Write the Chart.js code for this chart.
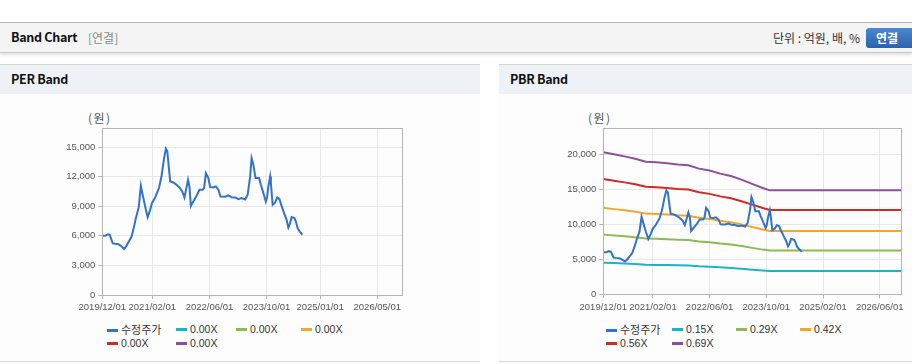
<!DOCTYPE html>
<html>
<head>
<meta charset="utf-8">
<script src="https://cdn.jsdelivr.net/npm/chart.js@4.4.1/dist/chart.umd.min.js"></script>
<style>
  body { margin: 0; width: 912px; height: 364px; overflow: hidden; background: #fff; position: relative;
         font-family: "Noto Sans CJK KR", "Liberation Sans", sans-serif; }
  .hdr { position: absolute; left: 0; top: 22px; width: 912px; height: 29px; background: #f4f4f4;
         border-top: 1px solid #b4b4b4; border-bottom: 1px solid #c8c8c8; box-shadow: 0 2px 3px rgba(0,0,0,0.12); }
  .hdr .t { position: absolute; left: 11px; top: 6px; font-size: 12.5px; letter-spacing: -0.3px; font-weight: bold; color: #111; line-height: 16px; }
  .hdr .s { position: absolute; left: 88px; top: 7px; font-size: 12px; color: #8a8a8a; line-height: 15px; }
  .hdr .u { position: absolute; right: 52px; top: 7px; font-size: 12px; color: #333; line-height: 15px; }
  .hdr .b { position: absolute; left: 866px; top: 5px; width: 52px; height: 20px; border-radius: 3px;
            background: linear-gradient(#4a88cf, #2b63ab); color: #fff; font-size: 12px; font-weight: bold;
            line-height: 20px; padding-left: 10px; box-sizing: border-box; }
  .panel { position: absolute; top: 64px; height: 297px; border-bottom: 1px solid #d6d6d6; background: #fdfdfd; }
  .panel .bar { height: 29px; background: #eef2f7; border-top: 1px solid #d4d4d4; }
  .panel .bar span { position: absolute; left: 11px; top: 7px; font-size: 12.5px; letter-spacing: -0.3px; font-weight: bold; color: #111; line-height: 16px; }
  .unit { position: absolute; top: 110px; font-size: 12px; color: #555; line-height: 15px; letter-spacing: 1.5px; }
  canvas { position: absolute; }
  .legend { position: absolute; top: 322px; display: grid; row-gap: 0; font-size: 10.5px; color: #333;
            font-family: "Liberation Sans", sans-serif; }
  .legend div { height: 14px; line-height: 14px; white-space: nowrap; }
  .legend i { display: inline-block; width: 11px; height: 3px; margin-right: 3px; vertical-align: middle; position: relative; top: -1px; }
  .legend .k { font-family: "Noto Sans CJK KR", sans-serif; font-size: 11px; }
</style>
</head>
<body>
<div class="hdr">
  <span class="t">Band Chart</span><span class="s">[연결]</span>
  <span class="u">단위 : 억원, 배, %</span>
  <span class="b">연결</span>
</div>
<div class="panel" style="left:0; width:480px;"><div class="bar"><span>PER Band</span></div></div>
<div class="panel" style="left:499px; width:413px;"><div class="bar"><span>PBR Band</span></div></div>

<div class="unit" style="left:88px;">(원)</div>
<div class="unit" style="left:588px;">(원)</div>

<canvas id="perChart" width="400" height="220" style="left:40px; top:100px; width:400px; height:220px;"></canvas>
<canvas id="pbrChart" width="372" height="220" style="left:540px; top:100px; width:372px; height:220px;"></canvas>

<div class="legend" id="perLegend" style="left:107px; grid-template-columns: 69px 60px 65px 60px;"></div>
<div class="legend" id="pbrLegend" style="left:606px; grid-template-columns: 66px 64px 64px 60px;"></div>

<script>
// months since 2019/12/01
const priceMonths = [0, 0.9, 1.5, 2.1, 2.9, 3.5, 4.5, 5.2, 6.1, 6.8, 7.7, 8.2, 8.9, 9.4, 10.2, 10.8, 11.3, 12.0, 12.7, 13.4,
  13.9, 14.8, 15.9, 16.6, 17.3, 17.8, 18.2, 19.0, 19.9, 20.8, 21.6, 22.4, 23.0, 23.6, 24.0, 24.4, 24.8, 25.5, 26.4, 27.2,
  28.1, 28.5, 29.0, 29.7, 30.2, 31.1, 31.8, 32.5, 33.1, 34.4, 35.3, 36.2, 37.2, 38.1, 39.0, 40.0, 40.7, 41.4, 41.8, 42.3,
  42.9, 43.9, 44.4, 45.1, 45.8, 46.1, 46.5, 47.0, 47.2, 47.7, 48.4, 49.0, 49.6, 50.2, 50.9, 51.6, 52.1, 52.6, 53.0, 53.8,
  54.2, 54.7, 55.3, 56.0];
const priceValues = [6000, 6000, 6160, 6100, 5250, 5200, 5150, 4980, 4670, 5010, 5590, 5920, 6940, 7790, 8900, 11070, 10160, 8970, 7890, 8630,
  9310, 9890, 10870, 12090, 13880, 14830, 14560, 11510, 11410, 11170, 10900, 10500, 9890, 10940, 11680, 11000, 9040, 9480, 10060, 10670,
  10670, 10840, 12360, 11850, 10940, 10900, 11000, 10670, 9990, 9960, 10090, 9920, 9890, 9720, 9820, 9680, 10160, 12020, 13880, 13210,
  11850, 11850, 11170, 10330, 9480, 9820, 11000, 12020, 11340, 9140, 9380, 9890, 9720, 9040, 8300, 7620, 6840, 7280, 7890, 7790,
  7450, 6770, 6430, 6090];

const bandMonths = [0, 3, 6, 9, 12, 15, 18, 21, 24, 27, 30, 33, 36, 39, 42, 45, 47, 84];
const band015 = [4520, 4460, 4400, 4320, 4220, 4200, 4180, 4140, 4110, 4000, 3940, 3850, 3770, 3660, 3520, 3390, 3310, 3310];
const band029 = [8520, 8400, 8280, 8140, 7950, 7920, 7860, 7790, 7740, 7540, 7430, 7240, 7100, 6890, 6630, 6380, 6240, 6240];
const band042 = [12340, 12160, 11990, 11790, 11520, 11470, 11390, 11280, 11210, 10920, 10760, 10490, 10280, 9970, 9600, 9240, 9030, 9030];
const band056 = [16450, 16210, 15980, 15710, 15360, 15290, 15180, 15040, 14950, 14560, 14340, 13980, 13700, 13290, 12800, 12320, 12040, 12040];
const band069 = [20270, 19980, 19690, 19360, 18920, 18840, 18710, 18530, 18420, 17940, 17670, 17230, 16880, 16380, 15770, 15180, 14840, 14840];

const perTickMonths = [0, 14, 30, 46, 61, 77];
const perTickLabels = ['2019/12/01', '2021/02/01', '2022/06/01', '2023/10/01', '2025/01/01', '2026/05/01'];
const pbrTickMonths = [0, 14, 30, 46, 62, 78];
const pbrTickLabels = ['2019/12/01', '2021/02/01', '2022/06/01', '2023/10/01', '2025/02/01', '2026/06/01'];
const perYTicks = [0, 3000, 6000, 9000, 12000, 15000];
const pbrYTicks = [0, 5000, 10000, 15000, 20000];

const perLabels = ['수정주가', '0.00X', '0.00X', '0.00X', '0.00X', '0.00X'];
const pbrLabels = ['수정주가', '0.15X', '0.29X', '0.42X', '0.56X', '0.69X'];
const colors = ['#3273c9', '#1db3c4', '#8dba52', '#f4a530', '#d02a29', '#8f4f9d'];

const pts = (xs, ys) => xs.map((x, i) => ({ x: x, y: ys[i] }));

const frame = {
    id: 'frame',
    afterDraw(chart) {
        const a = chart.chartArea, c = chart.ctx;
        c.save();
        c.strokeStyle = '#b4b4b4';
        c.lineWidth = 1;
        c.strokeRect(Math.round(a.left) + 0.5, Math.round(a.top) + 0.5, Math.round(a.right - a.left), Math.round(a.bottom - a.top));
        c.restore();
    }
};

function makeChart(id, series, labels, xTicks, xLabels, yTicks, yMax, yWidth, pad) {
    const datasets = labels.map((lab, i) => ({
        label: lab,
        data: series[i] || [],
        borderColor: colors[i],
        backgroundColor: colors[i],
        borderWidth: 2,
        pointRadius: 0,
        tension: 0,
        fill: false
    }));
    // price line on top
    datasets[0].order = -1;
    return new Chart(document.getElementById(id), {
        type: 'line',
        data: { datasets: datasets },
        options: {
            responsive: false,
            animation: false,
            layout: { padding: pad },
            plugins: { legend: { display: false }, tooltip: { enabled: false } },
            scales: {
                x: {
                    type: 'linear',
                    min: 0,
                    max: 84,
                    afterBuildTicks: s => { s.ticks = xTicks.map(v => ({ value: v })); },
                    afterFit: s => { s.height = 25; },
                    ticks: {
                        autoSkip: false,
                        maxRotation: 0,
                        padding: 3,
                        color: '#555',
                        font: { family: 'Liberation Sans', size: 9.5 },
                        callback: v => xLabels[xTicks.indexOf(v)]
                    },
                    grid: { color: '#e8e8e8', tickLength: 4, tickColor: '#b4b4b4' },
                    border: { color: '#b4b4b4' }
                },
                y: {
                    min: 0,
                    max: yMax,
                    afterBuildTicks: s => { s.ticks = yTicks.map(v => ({ value: v })); },
                    afterFit: s => { s.width = yWidth; },
                    ticks: {
                        padding: 3,
                        color: '#555',
                        font: { family: 'Liberation Sans', size: 9.5 },
                        callback: v => v.toLocaleString('en-US')
                    },
                    grid: { color: '#e8e8e8', tickLength: 4, tickColor: '#b4b4b4' },
                    border: { color: '#b4b4b4' }
                }
            }
        },
        plugins: [frame]
    });
}

function makeLegend(id, labels) {
    const box = document.getElementById(id);
    labels.forEach((lab, i) => {
        const d = document.createElement('div');
        d.innerHTML = '<i style="background:' + colors[i] + '"></i><span' + (i === 0 ? ' class="k"' : '') + '>' + lab + '</span>';
        box.appendChild(d);
    });
}

makeChart('perChart', [pts(priceMonths, priceValues)], perLabels,
    perTickMonths, perTickLabels, perYTicks, 16900, 62.3, { top: 28.3, right: 37.7, bottom: 0, left: 0 });

makeChart('pbrChart', [pts(priceMonths, priceValues), pts(bandMonths, band015), pts(bandMonths, band029),
    pts(bandMonths, band042), pts(bandMonths, band056), pts(bandMonths, band069)], pbrLabels,
    pbrTickMonths, pbrTickLabels, pbrYTicks, 23700, 63.3, { top: 28.3, right: 11, bottom: 0.7, left: 0 });

makeLegend('perLegend', perLabels);
makeLegend('pbrLegend', pbrLabels);
</script>
</body>
</html>
